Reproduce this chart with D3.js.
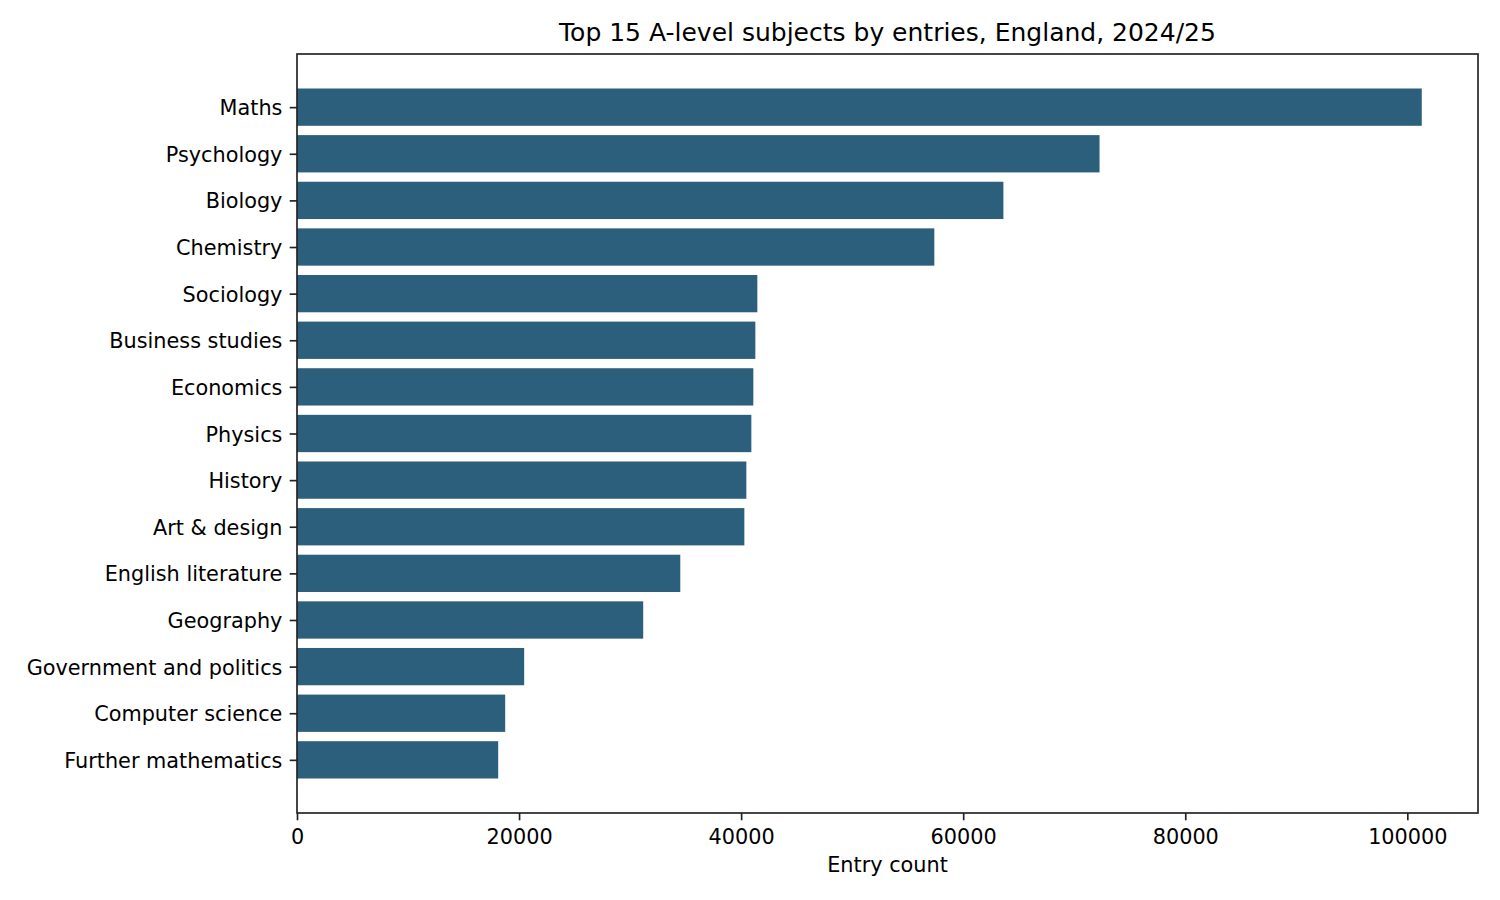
<!DOCTYPE html>
<html>
<head>
<meta charset="utf-8">
<script src="https://cdn.jsdelivr.net/npm/d3@7"></script>
<style>
  html, body { margin: 0; padding: 0; background: #fff; }
  svg { display: block; font-family: "DejaVu Sans", sans-serif; }
</style>
</head>
<body>
<svg id="chart" width="1500" height="900"></svg>
<script>
const subjects = ["Maths", "Psychology", "Biology", "Chemistry", "Sociology", "Business studies",
  "Economics", "Physics", "History", "Art & design", "English literature", "Geography",
  "Government and politics", "Computer science", "Further mathematics"];
const entries = [101300, 72280, 63620, 57400, 41460, 41280, 41100, 40920, 40470, 40290,
  34520, 31180, 20460, 18750, 18120];
const xTicks = [0, 20000, 40000, 60000, 80000, 100000];
const titleText = "Top 15 A-level subjects by entries, England, 2024/25";
const xLabelText = "Entry count";

const W = 1500, H = 900;
const m = { left: 297, right: 1478, top: 54, bottom: 813 };
const barColor = "#2c5f7c";
const axisColor = "#222";
const tickFont = 20.8;

const svg = d3.select("#chart");
svg.append("rect").attr("width", W).attr("height", H).attr("fill", "#fff");

const n = subjects.length;
const bh = 0.8;
const pad = 0.05 * ((n - 1) + bh);
const x = d3.scaleLinear().domain([0, d3.max(entries) * 1.05]).range([m.left, m.right]);
const y = d3.scaleLinear().domain([-bh / 2 - pad, (n - 1) + bh / 2 + pad]).range([m.top, m.bottom]);

// bars
svg.append("g").selectAll("rect").data(entries).join("rect")
  .attr("x", x(0))
  .attr("y", (d, i) => y(i - bh / 2))
  .attr("width", d => x(d) - x(0))
  .attr("height", (d, i) => y(i + bh / 2) - y(i - bh / 2))
  .attr("fill", barColor);

// x axis
const xAxis = d3.axisBottom(x).tickValues(xTicks).tickFormat(d3.format("d"))
  .tickSize(7.3).tickPadding(7.3);
const gx = svg.append("g").attr("transform", `translate(0,${m.bottom})`).call(xAxis);
gx.select(".domain").remove();
gx.selectAll(".tick line").attr("stroke", axisColor).attr("stroke-width", 1.67);
gx.selectAll(".tick text").attr("fill", "#000").attr("font-size", tickFont)
  .attr("font-family", "DejaVu Sans").attr("dy", null).attr("y", 30.5);

// y axis
const yAxis = d3.axisLeft(y).tickValues(d3.range(n)).tickFormat(i => subjects[i])
  .tickSize(7.3).tickPadding(7.3);
const gy = svg.append("g").attr("transform", `translate(${m.left},0)`).call(yAxis);
gy.select(".domain").remove();
gy.selectAll(".tick line").attr("stroke", axisColor).attr("stroke-width", 1.67);
gy.selectAll(".tick text").attr("fill", "#000").attr("font-size", tickFont)
  .attr("font-family", "DejaVu Sans").attr("dy", "0.365em");

// frame
svg.append("rect")
  .attr("x", m.left).attr("y", m.top)
  .attr("width", m.right - m.left).attr("height", m.bottom - m.top)
  .attr("fill", "none").attr("stroke", axisColor).attr("stroke-width", 1.67);

// title
svg.append("text").attr("x", (m.left + m.right) / 2).attr("y", 41)
  .attr("text-anchor", "middle").attr("font-size", 25).attr("fill", "#000")
  .text(titleText);

// x label
svg.append("text").attr("x", (m.left + m.right) / 2).attr("y", 872)
  .attr("text-anchor", "middle").attr("font-size", tickFont).attr("fill", "#000")
  .text(xLabelText);
</script>
</body>
</html>
